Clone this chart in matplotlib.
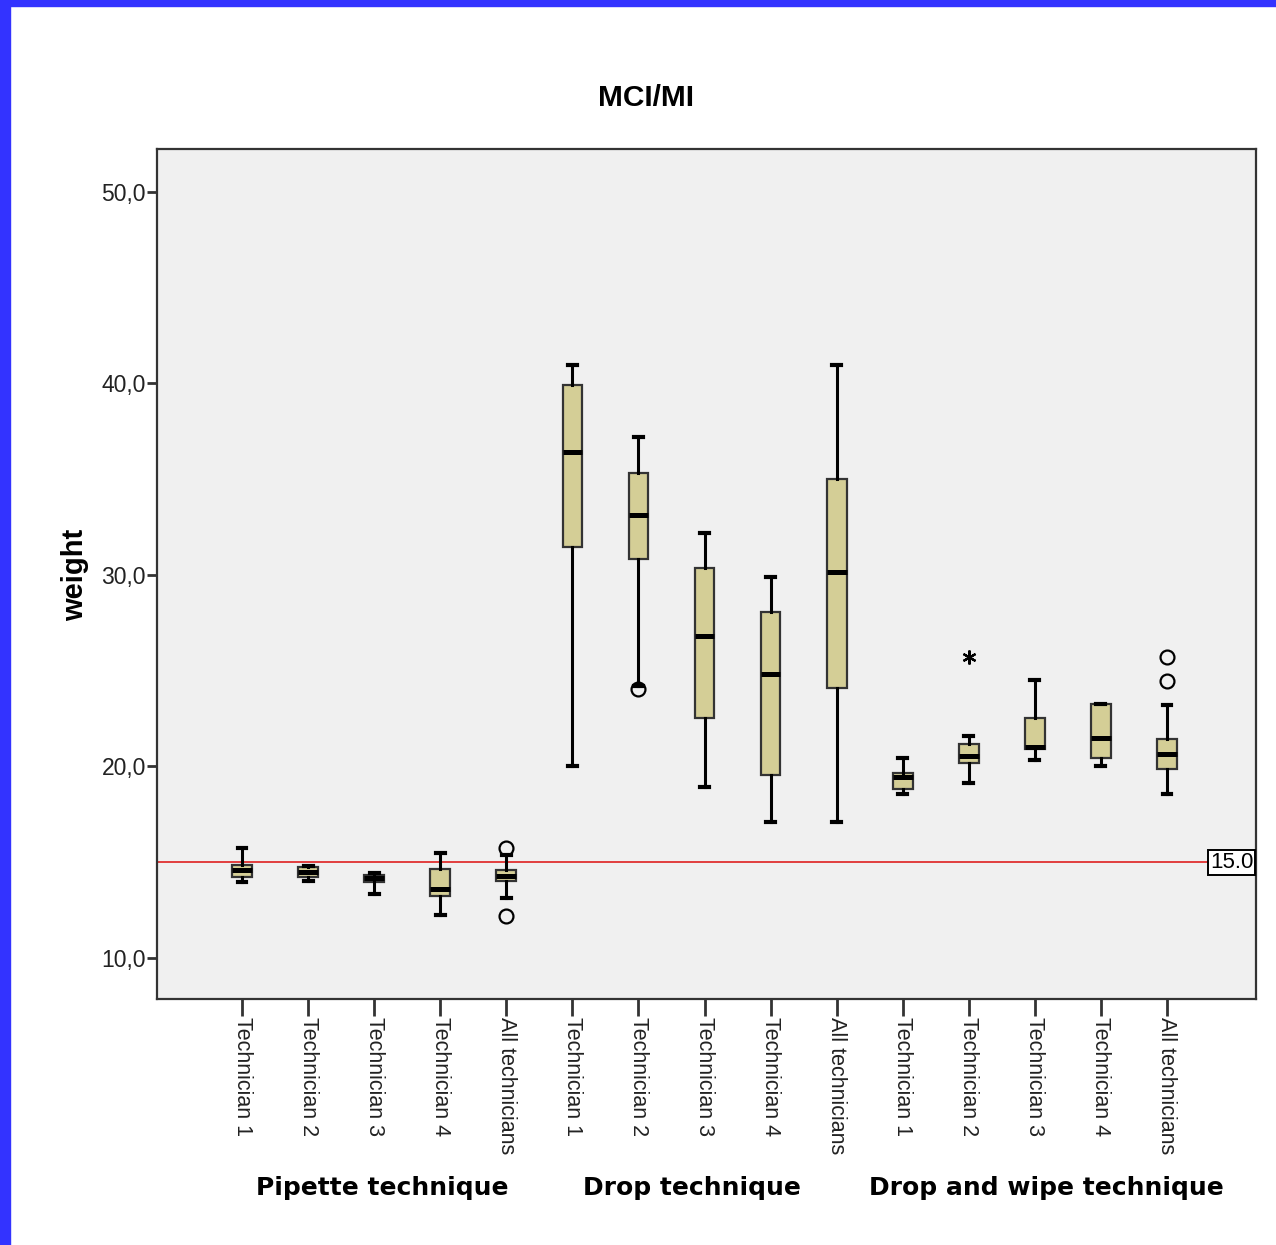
import matplotlib
matplotlib.use("Agg")
import matplotlib.pyplot as plt
import matplotlib.transforms as mtransforms
from matplotlib.patches import Rectangle

# ---------------- data ----------------
categories = ["Technician 1", "Technician 2", "Technician 3", "Technician 4", "All technicians",
              "Technician 1", "Technician 2", "Technician 3", "Technician 4", "All technicians",
              "Technician 1", "Technician 2", "Technician 3", "Technician 4", "All technicians"]
groups = ["Pipette technique", "Drop technique", "Drop and wipe technique"]

whislo = [13.99, 14.04, 13.36, 12.26, 13.15,
          20.00, 24.20, 18.95, 17.12, 17.12,
          18.58, 19.15, 20.35, 20.04, 18.58]
q1     = [14.22, 14.25, 13.95, 13.26, 14.04,
          31.47, 30.85, 22.55, 19.57, 24.11,
          18.84, 20.20, 20.93, 20.46, 19.89]
med    = [14.60, 14.50, 14.20, 13.62, 14.30,
          36.43, 33.14, 26.83, 24.84, 30.17,
          19.47, 20.56, 21.03, 21.50, 20.67]
q3     = [14.87, 14.77, 14.35, 14.67, 14.60,
          39.93, 35.33, 30.38, 28.08, 35.02,
          19.68, 21.19, 22.55, 23.28, 21.45]
whishi = [15.76, 14.82, 14.46, 15.50, 15.40,
          40.97, 37.20, 32.20, 29.90, 40.97,
          20.46, 21.61, 24.53, 23.28, 23.23]
outliers = [[], [], [], [], [15.76, 12.20],
            [], [24.05], [], [], [],
            [], [], [], [], [25.73, 24.48]]
extremes = [[], [], [], [], [],
            [], [], [], [], [],
            [], [25.73], [], [], []]

ref_value = 15.0
ref_label = "15.0"
yticks = [10, 20, 30, 40, 50]
ytick_labels = ["10,0", "20,0", "30,0", "40,0", "50,0"]

# ---------------- figure ----------------
fig = plt.figure(figsize=(12.76, 12.45), dpi=100)
fig.patch.set_facecolor("white")
fig.patches.append(Rectangle((0, 1 - 6 / 1245), 1, 6 / 1245, transform=fig.transFigure,
                             color="#3333FF", zorder=0))
fig.patches.append(Rectangle((0, 0), 10 / 1276, 1, transform=fig.transFigure,
                             color="#3333FF", zorder=0))

ax = fig.add_axes([157 / 1276, 246 / 1245, 1099 / 1276, 850 / 1245])
ax.set_facecolor("#F0F0F0")

positions = list(range(1, len(categories) + 1))
stats = []
for i in range(len(categories)):
    stats.append(dict(med=med[i], q1=q1[i], q3=q3[i], whislo=whislo[i], whishi=whishi[i],
                      fliers=outliers[i]))

ax.bxp(stats, positions=positions, widths=0.3, patch_artist=True, capwidths=0.13,
       boxprops=dict(facecolor="#D4CE96", edgecolor="#333333", linewidth=1.6),
       medianprops=dict(color="black", linewidth=3.6),
       whiskerprops=dict(color="black", linewidth=2.2),
       capprops=dict(color="black", linewidth=3.0),
       flierprops=dict(marker="o", markersize=10, markerfacecolor="none",
                       markeredgecolor="black", markeredgewidth=1.6, linestyle="none"))

for i, ex in enumerate(extremes):
    if ex:
        ax.plot([positions[i]] * len(ex), ex, linestyle="none", marker=(6, 2, 0),
                markersize=10, color="black", markeredgewidth=1.6)

ax.axhline(ref_value, color="#E03030", linewidth=1.3, zorder=1)
ax.text(0.9975, ref_value, ref_label,
        transform=mtransforms.blended_transform_factory(ax.transAxes, ax.transData),
        ha="right", va="center", fontsize=16, family="Liberation Sans",
        bbox=dict(boxstyle="square,pad=0.1", facecolor="white", edgecolor="black", linewidth=1.4),
        zorder=5)

ax.set_xlim(-0.29, 16.35)
ax.set_ylim(7.86, 52.24)
ax.set_yticks(yticks)
ax.set_yticklabels(ytick_labels, family="Liberation Sans", fontsize=16.5, color="#222222")
ax.set_xticks(positions)
ax.set_xticklabels(categories, rotation=270, family="Liberation Sans", fontsize=15.5,
                   color="#222222", ha="center", va="top")
ax.tick_params(axis="y", direction="out", length=7, width=2, color="#333333", pad=1)
ax.tick_params(axis="x", direction="out", length=12, width=2, color="#333333", pad=1)
for s in ax.spines.values():
    s.set_color("#333333")
    s.set_linewidth(1.6)

fig.text(646 / 1276, 1 - 98 / 1245, "MCI/MI", ha="center", va="center", fontsize=21.5,
         fontweight="bold", family="Liberation Sans")
fig.text(75 / 1276, 1 - 575 / 1245, "weight", ha="center", va="center", rotation=90,
         fontsize=21, fontweight="bold", family="Liberation Sans")

group_x = [3.12, 7.81, 13.18]
trans = mtransforms.blended_transform_factory(ax.transData, fig.transFigure)
for gx, g in zip(group_x, groups):
    ax.text(gx, 1 - 1188 / 1245, g, transform=trans, ha="center", va="center",
            fontsize=18, fontweight="bold", family="DejaVu Sans", clip_on=False)

fig.savefig("out.png", dpi=100)
